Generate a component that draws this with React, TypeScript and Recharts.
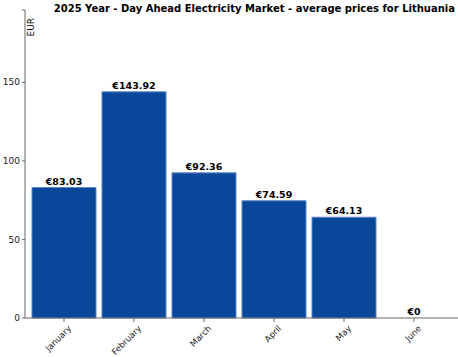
import React from "react";
import {
  ComposedChart,
  Bar,
  Line,
  XAxis,
  YAxis,
  LabelList,
} from "recharts";

// --- Data ---

const months = ["January", "February", "March", "April", "May", "June"];
const prices = [83.03, 143.92, 92.36, 74.59, 64.13, 0];
const yTicks = [0, 50, 100, 150, 196];

const chartData = months.map((month, i) => ({ month, price: prices[i] }));

const FONT = "'DejaVu Sans', Verdana, sans-serif";

// --- Parts ---

const MonthTick = (props: any) => {
  const { x, y, payload } = props;
  return (
    <g transform={`translate(${x},${y})`}>
      <text
        x={2}
        y={9}
        textAnchor="end"
        transform="rotate(-45)"
        fontSize={8.5}
        fontFamily={FONT}
        fill="#222"
      >
        {payload.value}
      </text>
    </g>
  );
};

const EurLabel = () => (
  <text
    x={34}
    y={18}
    textAnchor="end"
    transform="rotate(-90, 34, 18)"
    fontSize={9}
    fontFamily={FONT}
    fill="#000"
  >
    EUR
  </text>
);

const App = () => {
  return (
    <div
      style={{
        position: "absolute",
        left: 0,
        top: 0,
        width: 458,
        height: 357,
        background: "#fff",
      }}
    >
      <div
        style={{
          position: "absolute",
          right: 3,
          top: 3,
          fontFamily: FONT,
          fontWeight: "bold",
          fontSize: 10,
          color: "#000",
          whiteSpace: "nowrap",
        }}
      >
        2025 Year - Day Ahead Electricity Market - average prices for Lithuania
      </div>
      <ComposedChart
        width={458}
        height={357}
        data={chartData}
        margin={{ top: 10, right: 0, bottom: 0, left: 0 }}
        barCategoryGap={3}
      >
        <XAxis
          dataKey="month"
          height={39}
          padding={{ left: 4, right: 9 }}
          stroke="#666"
          tickSize={4}
          tick={<MonthTick />}
          interval={0}
        />
        <YAxis
          width={25}
          domain={[0, 196]}
          ticks={yTicks}
          tickFormatter={(v: number) => (v > 150 ? "" : String(v))}
          stroke="#666"
          tickSize={3}
          tick={{ fontSize: 9, fontFamily: FONT, fill: "#222" }}
          label={<EurLabel />}
        />
        <Bar
          dataKey="price"
          fill="#08479a"
          stroke="#5a86c2"
          strokeWidth={1}
          isAnimationActive={false}
        />
        <Line
          dataKey="price"
          stroke="none"
          dot={false}
          activeDot={false}
          legendType="none"
          isAnimationActive={false}
        >
          <LabelList
            dataKey="price"
            position="top"
            offset={3}
            formatter={(v: number) => `€${v}`}
            style={{
              fontSize: 9.5,
              fontWeight: "bold",
              fontFamily: FONT,
              fill: "#000",
            }}
          />
        </Line>
      </ComposedChart>
    </div>
  );
};

export default App;
